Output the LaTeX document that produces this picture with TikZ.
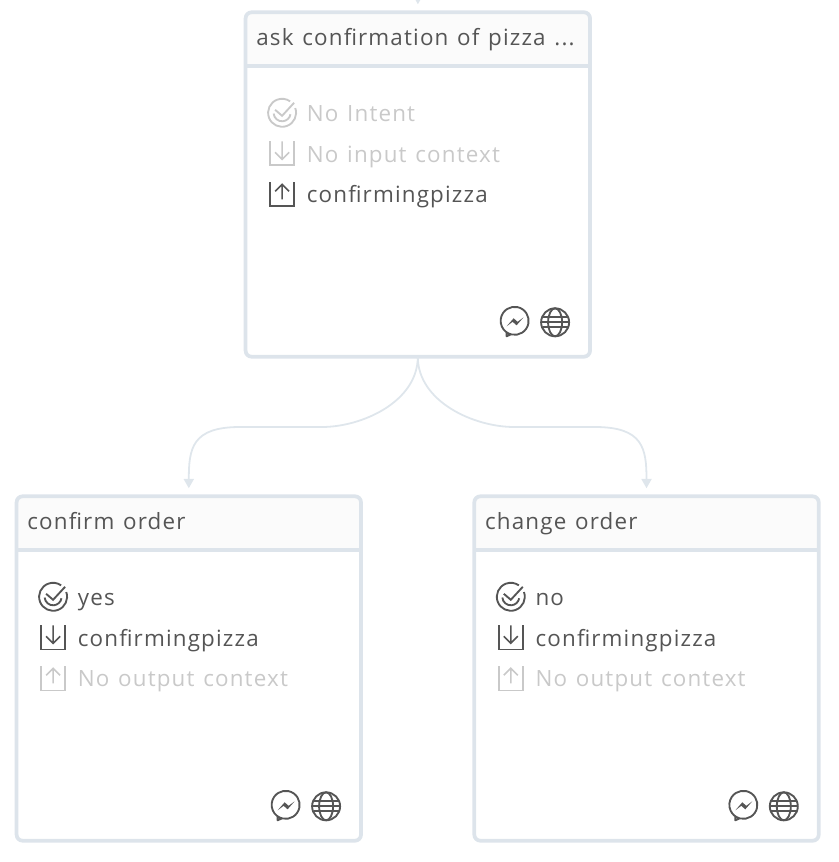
\documentclass[tikz,border=0pt]{standalone}
\usepackage{fontspec}
\setmainfont[LetterSpace=5.2,WordSpace=1.25]{Open Sans}
\usetikzlibrary{arrows.meta}
\definecolor{frame}{HTML}{DDE4EB}
\definecolor{wirecol}{HTML}{DFE6EC}
\definecolor{head}{HTML}{FBFBFB}
\definecolor{ink}{HTML}{555555}
\definecolor{faint}{HTML}{C9C9C9}
\newcommand{\asktitle}{ask confirmation of pizza ...}
\tikzset{
	cardbox/.style={draw=frame, line width=2.8pt, rounded corners=4.5pt, minimum width=258.3pt, minimum height=258.3pt, inner sep=0pt, outer sep=0pt},
	cardrule/.style={draw=frame, line width=2.8pt},
	rowtext/.style={anchor=base west, inner sep=0pt, text=#1, font=\fontsize{16.8pt}{18pt}\selectfont},
	wire/.style={line width=1.35pt, -{Triangle[length=7pt,width=7.5pt]}, color=wirecol, shorten >=6pt},
	pics/intenticon/.style={code={
		\draw[line width=1.4pt] (-20:14) arc[start angle=-20, end angle=305, radius=14];
		\draw[line width=1.4pt] (175:8.5) arc[start angle=175, end angle=10, radius=8.5];
		\draw[line width=1.4pt] (-7,-3) -- (0,3) -- (12,-10);
	}},
	pics/inicon/.style={code={
		\draw[line width=1.2pt] (-12,-12) -- (-12,12) -- (12,12) -- (12,-12);
		\draw[line width=1.2pt] (0,-12) -- (0,6) (-7,-1) -- (0,6) -- (7,-1);
	}},
	pics/outicon/.style={code={
		\draw[line width=1.2pt] (-12,-12) -- (-12,12) -- (12,12) -- (12,-12);
		\draw[line width=1.2pt] (0,5) -- (0,-10) (-7,-3) -- (0,-10) -- (7,-3);
	}},
	pics/msgicon/.style={code={
		\draw[line width=1.4pt, line join=round] (-8,15) -- (-8,11) arc[start angle=125, end angle=-255, radius=14] -- cycle;
		\fill (-8,5) -- (-1,-3) -- (3,0.5) -- (9,-4) -- (2,4) -- (-2,0.5) -- cycle;
	}},
	pics/globeicon/.style={code={
		\draw[line width=1.4pt] (0,0) circle[radius=14];
		\draw[line width=1.4pt] (0,0) ellipse[x radius=7, y radius=14];
		\draw[line width=1.4pt] (-14,0) -- (14,0) (-12.5,-5) -- (12.5,-5) (-12.5,5) -- (12.5,5);
	}},
}
\begin{document}
\begin{tikzpicture}[x=0.75pt, y=-0.75pt]
	\clip (0,0) rectangle (838,862);
	\foreach \name/\x/\y/\title/\rowa/\cola/\rowb/\colb/\rowc/\colc in {
		top/245.6/12.3/\asktitle/No Intent/faint/No input context/faint/confirmingpizza/ink,
		left/16.6/496.3/confirm order/yes/ink/confirmingpizza/ink/No output context/faint,
		right/474.3/496.3/change order/no/ink/confirmingpizza/ink/No output context/faint%
	} {
		\begin{scope}[shift={(\x,\y)}]
			\fill[head, rounded corners=4.5pt] (0,54) -- (0,0) -- (344.4,0) -- (344.4,54) [sharp corners] -- cycle;
			\fill[head] (0,20) rectangle (344.4,54);
			\node[cardbox] (\name) at (172.2,172.2) {};
			\draw[cardrule] (0,54) -- (344.4,54);
			\node[rowtext=ink] (\name-title) at (10.5,33) {\title};
			\pic[\cola] at (36.5,100.5) {intenticon};
			\node[rowtext=\cola] (\name-intent) at (61,109) {\rowa};
			\pic[\colb] at (36.5,141) {inicon};
			\node[rowtext=\colb] (\name-input) at (61,149.8) {\rowb};
			\pic[\colc] at (36.5,182) {outicon};
			\node[rowtext=\colc] (\name-output) at (61,190) {\rowc};
			\pic[ink] at (269,309) {msgicon};
			\pic[ink] at (309.5,310) {globeicon};
		\end{scope}
	}
	\coordinate (entry) at (418,-12);
	\coordinate (leftturn) at (322,427);
	\coordinate (leftbend) at (240,427);
	\coordinate (rightturn) at (514,427);
	\coordinate (rightbend) at (595,427);
	\draw[wire] (entry) -- (top.north);
	\draw[wire] (top.south) .. controls +(0,45) and +(40,0) .. (leftturn) -- (leftbend) .. controls +(-48,0) and +(0,-48) .. (left.north);
	\draw[wire] (top.south) .. controls +(0,45) and +(-40,0) .. (rightturn) -- (rightbend) .. controls +(48,0) and +(0,-48) .. (right.north);
\end{tikzpicture}
\end{document}
